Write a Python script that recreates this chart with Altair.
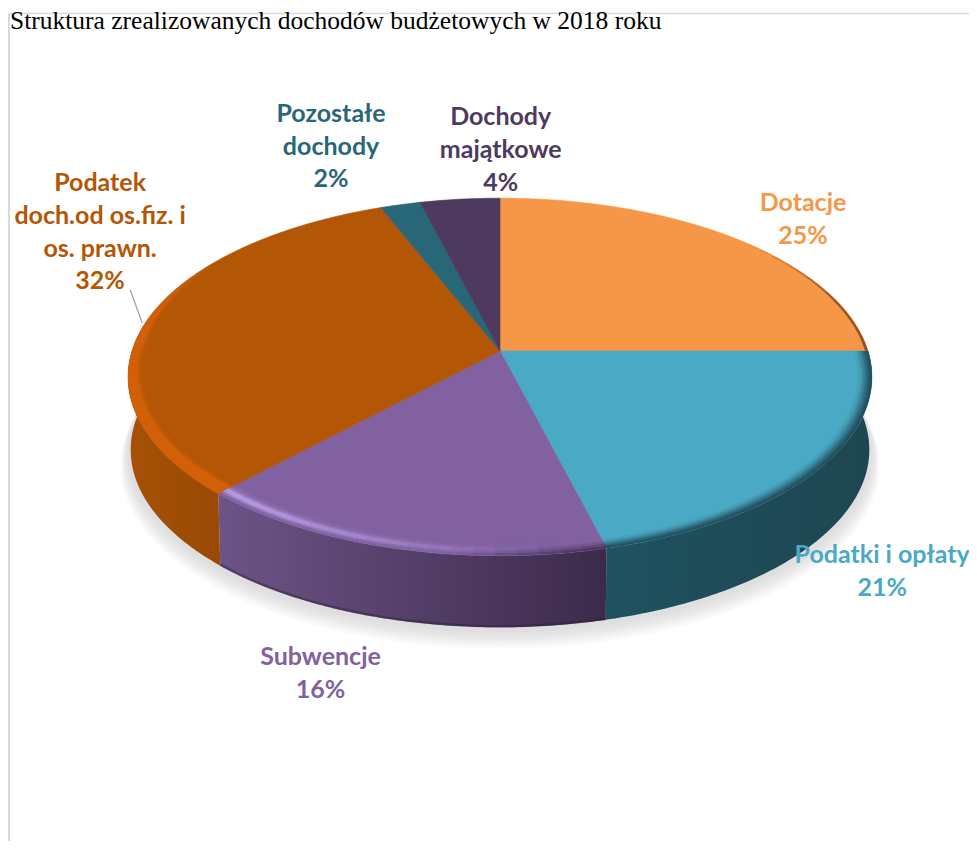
import math
import altair as alt
import pandas as pd

# ---- values ----
categories = ["Dotacje", "Podatki i opłaty", "Subwencje",
              "Podatek doch.od os.fiz. i os. prawn.", "Pozostałe dochody", "Dochody majątkowe"]
shares = [25, 21, 16, 32, 2, 4]
label_lines = [["Dotacje"], ["Podatki i opłaty"], ["Subwencje"],
               ["Podatek", "doch.od os.fiz. i", "os. prawn."], ["Pozostałe", "dochody"], ["Dochody", "majątkowe"]]
title_text = "Struktura zrealizowanych dochodów budżetowych w 2018 roku"

# ---- styling ----
top_colors = ["#f59746", "#4aa9c5", "#8161a0", "#b35605", "#276778", "#4e3a5f"]
text_colors = ["#f59746", "#4aa9c5", "#8161a0", "#b35605", "#276778", "#4e3a5f"]
# label offsets (first line) from the rim point at each slice's middle angle
label_offset = [(67, -36), (63, 86), (-73, 109), (-48, -136), (-69, -91), (41, -82)]

W, H = 961, 833
CX, CY, A, B, K = 500.0, 351.0, 368.0, 175.0, 0.145
DEPTH = 73.0
bounds = [0]
for s in shares:
    bounds.append(bounds[-1] + s * 3.6)


def proj(deg, r=1.0, shift=0.0, scale=1.0):
    t = math.radians(deg)
    X, Y = r * math.sin(t), r * math.cos(t)
    w = 1 + K * Y
    return (CX + scale * A * X / w, CY - scale * B * Y / w + shift)


def arc(d1, d2, **kw):
    n = max(2, int(abs(d2 - d1) * 1.5))
    return [proj(d1 + (d2 - d1) * i / n, **kw) for i in range(n + 1)]


xs = alt.Scale(domain=[8, 8 + W], range=[0, W], nice=False, zero=False)
ys = alt.Scale(domain=[8, 8 + H], range=[0, H], nice=False, zero=False)


def enc(ch, **k):
    return ch.encode(x=alt.X("x:Q", scale=xs, axis=None), y=alt.Y("y:Q", scale=ys, axis=None),
                     order=alt.Order("i:Q"), **k)


def poly(points, fill, opacity=1.0, edge=True):
    df = pd.DataFrame([{"x": p[0], "y": p[1], "i": i} for i, p in enumerate(points + points[:1])])
    kw = dict(fill=fill, opacity=opacity, strokeWidth=0.6 if edge else 0)
    kw["stroke"] = fill if (edge and isinstance(fill, str)) else "transparent"
    return enc(alt.Chart(df).mark_line(**kw))


def grad(c1, c2):
    return {"gradient": "linear", "x1": 0, "y1": 0, "x2": 1, "y2": 0,
            "stops": [{"offset": 0, "color": c1}, {"offset": 1, "color": c2}]}


layers = []

# frame of the document page
frame_color = "#d9d9d9"
layers.append(enc(alt.Chart(pd.DataFrame({"x": [8.5, 8 + W], "y": [13.5, 13.5], "i": [0, 1]}))
                  .mark_line(color=frame_color, strokeWidth=1.5)))
layers.append(enc(alt.Chart(pd.DataFrame({"x": [9, 9], "y": [13.5, 8 + H], "i": [0, 1]}))
                  .mark_line(color=frame_color, strokeWidth=2)))

# soft shadow
for d, sc in [(16, 1.02), (14, 1.017), (12, 1.014), (10, 1.011), (8, 1.008), (6, 1.004), (4, 1.0)]:
    layers.append(poly(arc(0, 360, shift=DEPTH + d, scale=sc), "#9a9a9a", 0.05, edge=False))

# walls (front part of each slice): left colour, right colour
walls = [
    (85, bounds[2], "#1f5260", "#1e4650"),
    (bounds[2], bounds[3], "#6d5487", "#3c2a4a"),
    (bounds[3], 285, "#a65106", "#9a4a05"),
]
for d1, d2, c1, c2 in walls:
    pts = arc(d1, d2) + arc(d2, d1, shift=DEPTH, scale=0.993)
    layers.append(poly(pts, grad(c1, c2)))

# dark strip along the lower edge of the wall
layers.append(enc(alt.Chart(pd.DataFrame(
    [{"x": p[0], "y": p[1] - 1, "i": i} for i, p in enumerate(arc(bounds[2], bounds[3], shift=DEPTH, scale=0.993))]))
    .mark_line(color="#2d1f3c", strokeWidth=2.5, opacity=0.45)))

# top faces
for i in range(len(shares)):
    pts = [(CX, CY)] + arc(bounds[i], bounds[i + 1])
    layers.append(poly(pts, top_colors[i]))


def band(d1, d2, r_in, r_out, color, op_fn, step=3):
    rows = []
    d = d1
    seg = 0
    while d < d2 - 1e-6:
        e = min(d + step, d2)
        mid = (d + e) / 2
        ri = r_in(mid) if callable(r_in) else r_in
        ro = r_out(mid) if callable(r_out) else r_out
        pts = arc(d, e, r=ro) + arc(e, d, r=ri)
        pts = pts + pts[:1]
        o = round(op_fn(mid), 3)
        for j, p in enumerate(pts):
            rows.append({"x": p[0], "y": p[1], "i": j, "s": seg, "o": o})
        d = e
        seg += 1
    df = pd.DataFrame(rows)
    return enc(alt.Chart(df).mark_line(fill=color, strokeWidth=0),
               detail="s:N", opacity=alt.Opacity("o:Q", scale=None))


def clamp01(v):
    return max(0.0, min(1.0, v))


# orange bevel: wide at the purple seam, narrowing towards the back
def orange_width(d):
    if d < 270:
        return 0.042 - 0.018 * clamp01((d - 223) / 47)
    return 0.024 * (1 - clamp01((d - 270) / 35)) + 0.003


orange_fade = lambda d: 1.0 - clamp01((d - 285) / 25)
layers.append(band(bounds[3], 310, lambda d: 1 - orange_width(d) - 0.008, 1.0, "#d26008", lambda d: 0.4 * orange_fade(d)))
layers.append(band(bounds[3], 310, lambda d: 1 - orange_width(d), 1.0, "#d26008", orange_fade))

# purple highlight
pf = lambda d: clamp01((d - 172) / 45)
layers.append(band(bounds[2], bounds[3], 0.950, 0.995, "#9577bd", lambda d: pf(d) * 0.35))
layers.append(band(bounds[2], bounds[3], 0.960, 0.990, "#a488cf", lambda d: pf(d) * 0.55))
layers.append(band(bounds[2], bounds[3], 0.968, 0.984, "#b79ce2", lambda d: pf(d) ** 1.3 * 0.85))

# blue slice: soft dark edge
for ri, o in [(0.994, 0.5), (0.988, 0.4), (0.982, 0.3), (0.976, 0.22), (0.970, 0.15), (0.962, 0.08)]:
    layers.append(band(bounds[1], bounds[2], ri, 1.0, "#1f4650", lambda d, oo=o: oo))
# purple slice: dark soft edge next to the blue seam
for ri, o in [(0.99, 0.6), (0.98, 0.35), (0.97, 0.2)]:
    layers.append(band(bounds[2], bounds[2] + 20, ri, 1.0, "#3c2a4a",
                       lambda d, oo=o: oo * (1 - clamp01((d - bounds[2]) / 20))))
# thin brown rim of the Dotacje slice
layers.append(band(48, 90, 0.992, 1.0, "#7a4a20", lambda d: 0.85 * min(1, (d - 48) / 25)))

# leader line of the orange slice
lead_a = proj(279.5, r=1.01)
lead_b = proj(279.5, r=1.01, shift=-33)
layers.append(enc(alt.Chart(pd.DataFrame({"x": [lead_a[0] - 12, lead_a[0]], "y": [lead_b[1], lead_a[1]], "i": [0, 1]}))
                  .mark_line(color="#a6a6a6", strokeWidth=1.3)))

# labels
rows = []
for i, c in enumerate(categories):
    mid = (bounds[i] + bounds[i + 1]) / 2
    px, py = proj(mid)
    dx, dy = label_offset[i]
    rows.append({"x": px + dx, "y": py + dy,
                 "label": "\n".join(label_lines[i] + [f"{shares[i]}%"]), "c": text_colors[i], "i": i})
labels = alt.Chart(pd.DataFrame(rows)).mark_text(
    font="Lato", fontWeight="bold", fontSize=25, lineBreak="\n", lineHeight=32.8,
    align="center", baseline="middle").encode(
    x=alt.X("x:Q", scale=xs, axis=None), y=alt.Y("y:Q", scale=ys, axis=None),
    text="label:N", color=alt.Color("c:N", scale=None))
layers.append(labels)

# document heading above the chart
title = alt.Chart(pd.DataFrame({"x": [10], "y": [29], "t": [title_text]})).mark_text(
    font="Liberation Serif", fontSize=25.5, align="left", baseline="alphabetic", color="#000000").encode(
    x=alt.X("x:Q", scale=xs, axis=None), y=alt.Y("y:Q", scale=ys, axis=None), text="t:N")
layers.append(title)

chart = alt.layer(*layers).properties(
    width=W, height=H, padding=0, autosize=alt.AutoSizeParams(type="none"),
    background="#ffffff",
).configure_view(stroke=None)

chart.save("out.html", embed_options={"renderer": "svg", "actions": False})
